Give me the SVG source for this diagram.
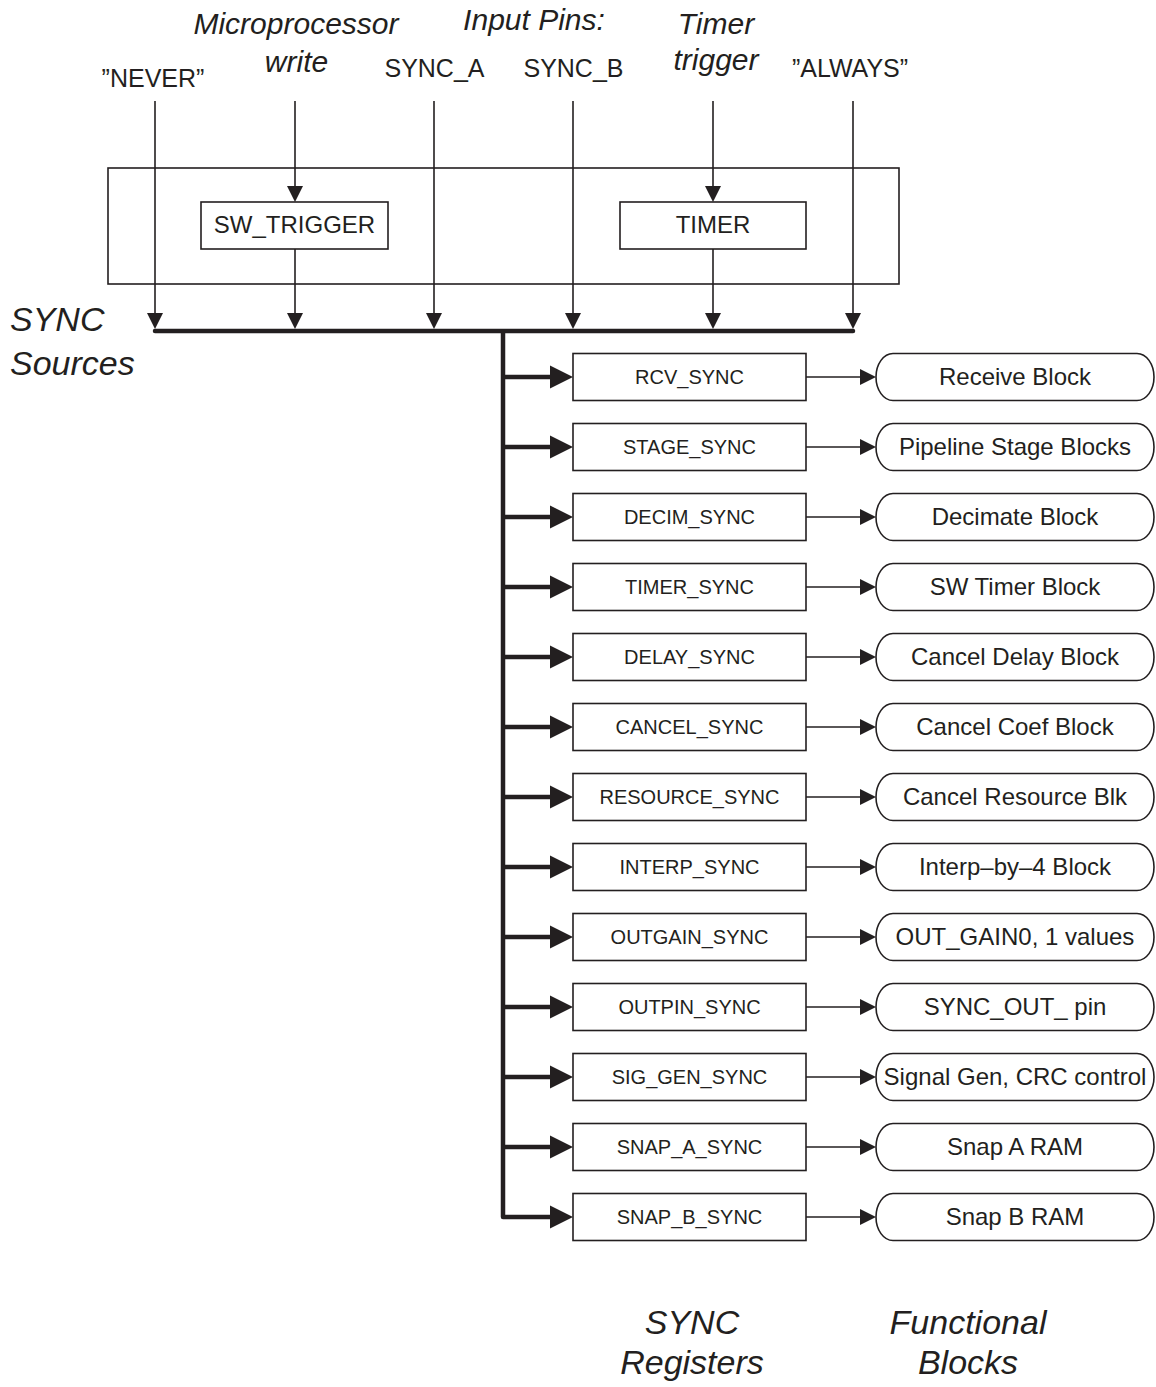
<svg xmlns="http://www.w3.org/2000/svg" width="1156" height="1387" viewBox="0 0 1156 1387">
<style>
  .bg{fill:#fff}
  .box{fill:#fff;stroke:#231f20;stroke-width:1.6}
  .frame{fill:none;stroke:#231f20;stroke-width:1.6}
  .thin{fill:none;stroke:#231f20;stroke-width:1.6}
  .thick{fill:none;stroke:#231f20;stroke-width:4.5}
  text{font-family:"Liberation Sans",Arial,sans-serif;fill:#231f20}
  .lbl{font-size:25px;text-anchor:middle}
  .it{font-size:30px;font-style:italic;text-anchor:middle}
  .big{font-size:34px;font-style:italic}
  .bigc{font-size:34px;font-style:italic;text-anchor:middle}
  .reg{font-size:20px;text-anchor:middle}
  .fn{font-size:24px;text-anchor:middle}
</style>
<defs>
  <marker id="ah" markerUnits="userSpaceOnUse" markerWidth="16" markerHeight="16" refX="0" refY="8" orient="auto" overflow="visible">
    <path d="M0,0 L16,8 L0,16 Z" fill="#231f20"/>
  </marker>
  <marker id="ahb" markerUnits="userSpaceOnUse" markerWidth="23" markerHeight="23" refX="0" refY="11.5" orient="auto" overflow="visible">
    <path d="M0,0 L23,11.5 L0,23 Z" fill="#231f20"/>
  </marker>
</defs>
<rect class="bg" x="0" y="0" width="1156" height="1387"/>

<!-- labels -->
<g id="labels">
  <text class="lbl" x="153" y="87">”NEVER”</text>
  <text class="lbl" x="434.5" y="77">SYNC_A</text>
  <text class="lbl" x="573.5" y="77">SYNC_B</text>
  <text class="lbl" x="850" y="77">”ALWAYS”</text>
  <text class="it" x="296" y="34">Microprocessor</text>
  <text class="it" x="296.5" y="72">write</text>
  <text class="it" x="534" y="30">Input Pins:</text>
  <text class="it" x="716" y="34">Timer</text>
  <text class="it" x="716" y="70">trigger</text>
  <text class="big" x="10" y="331">SYNC</text>
  <text class="big" x="10" y="375">Sources</text>
  <text class="bigc" x="692" y="1334">SYNC</text>
  <text class="bigc" x="692" y="1374">Registers</text>
  <text class="bigc" x="968" y="1334">Functional</text>
  <text class="bigc" x="968" y="1374">Blocks</text>
</g>

<g id="sources-frame">
  <rect class="frame" x="108" y="168" width="791" height="116"/>
</g>
<g id="sw_trigger">
  <rect class="box" x="201" y="202" width="187" height="47"/>
  <text class="fn" x="294.5" y="233">SW_TRIGGER</text>
</g>
<g id="timer">
  <rect class="box" x="620" y="202" width="186" height="47"/>
  <text class="fn" x="713" y="233">TIMER</text>
</g>

<!-- connectors -->
<g id="connectors">
  <path class="thin" d="M155,101 V313" marker-end="url(#ah)"/>
  <path class="thin" d="M295,101 V186" marker-end="url(#ah)"/>
  <path class="thin" d="M295,249 V313" marker-end="url(#ah)"/>
  <path class="thin" d="M434,101 V313" marker-end="url(#ah)"/>
  <path class="thin" d="M573,101 V313" marker-end="url(#ah)"/>
  <path class="thin" d="M713,101 V186" marker-end="url(#ah)"/>
  <path class="thin" d="M713,249 V313" marker-end="url(#ah)"/>
  <path class="thin" d="M853,101 V313" marker-end="url(#ah)"/>
  <path class="thick" d="M155,331 H853" stroke-linecap="round"/>
  <path class="thick" d="M503,331 V1217 H550" stroke-linejoin="round" marker-end="url(#ahb)"/>
  <path class="thick" d="M503,377 H550" marker-end="url(#ahb)"/>
  <path class="thick" d="M503,447 H550" marker-end="url(#ahb)"/>
  <path class="thick" d="M503,517 H550" marker-end="url(#ahb)"/>
  <path class="thick" d="M503,587 H550" marker-end="url(#ahb)"/>
  <path class="thick" d="M503,657 H550" marker-end="url(#ahb)"/>
  <path class="thick" d="M503,727 H550" marker-end="url(#ahb)"/>
  <path class="thick" d="M503,797 H550" marker-end="url(#ahb)"/>
  <path class="thick" d="M503,867 H550" marker-end="url(#ahb)"/>
  <path class="thick" d="M503,937 H550" marker-end="url(#ahb)"/>
  <path class="thick" d="M503,1007 H550" marker-end="url(#ahb)"/>
  <path class="thick" d="M503,1077 H550" marker-end="url(#ahb)"/>
  <path class="thick" d="M503,1147 H550" marker-end="url(#ahb)"/>
  <path class="thin" d="M806,377 H860" marker-end="url(#ah)"/>
  <path class="thin" d="M806,447 H860" marker-end="url(#ah)"/>
  <path class="thin" d="M806,517 H860" marker-end="url(#ah)"/>
  <path class="thin" d="M806,587 H860" marker-end="url(#ah)"/>
  <path class="thin" d="M806,657 H860" marker-end="url(#ah)"/>
  <path class="thin" d="M806,727 H860" marker-end="url(#ah)"/>
  <path class="thin" d="M806,797 H860" marker-end="url(#ah)"/>
  <path class="thin" d="M806,867 H860" marker-end="url(#ah)"/>
  <path class="thin" d="M806,937 H860" marker-end="url(#ah)"/>
  <path class="thin" d="M806,1007 H860" marker-end="url(#ah)"/>
  <path class="thin" d="M806,1077 H860" marker-end="url(#ah)"/>
  <path class="thin" d="M806,1147 H860" marker-end="url(#ah)"/>
  <path class="thin" d="M806,1217 H860" marker-end="url(#ah)"/>
</g>

<!-- SYNC registers -->
<g id="rcv_sync"><rect class="box" x="573" y="353.5" width="233" height="47"/><text class="reg" x="689.5" y="384">RCV_SYNC</text></g>
<g id="stage_sync"><rect class="box" x="573" y="423.5" width="233" height="47"/><text class="reg" x="689.5" y="454">STAGE_SYNC</text></g>
<g id="decim_sync"><rect class="box" x="573" y="493.5" width="233" height="47"/><text class="reg" x="689.5" y="524">DECIM_SYNC</text></g>
<g id="timer_sync"><rect class="box" x="573" y="563.5" width="233" height="47"/><text class="reg" x="689.5" y="594">TIMER_SYNC</text></g>
<g id="delay_sync"><rect class="box" x="573" y="633.5" width="233" height="47"/><text class="reg" x="689.5" y="664">DELAY_SYNC</text></g>
<g id="cancel_sync"><rect class="box" x="573" y="703.5" width="233" height="47"/><text class="reg" x="689.5" y="734">CANCEL_SYNC</text></g>
<g id="resource_sync"><rect class="box" x="573" y="773.5" width="233" height="47"/><text class="reg" x="689.5" y="804">RESOURCE_SYNC</text></g>
<g id="interp_sync"><rect class="box" x="573" y="843.5" width="233" height="47"/><text class="reg" x="689.5" y="874">INTERP_SYNC</text></g>
<g id="outgain_sync"><rect class="box" x="573" y="913.5" width="233" height="47"/><text class="reg" x="689.5" y="944">OUTGAIN_SYNC</text></g>
<g id="outpin_sync"><rect class="box" x="573" y="983.5" width="233" height="47"/><text class="reg" x="689.5" y="1014">OUTPIN_SYNC</text></g>
<g id="sig_gen_sync"><rect class="box" x="573" y="1053.5" width="233" height="47"/><text class="reg" x="689.5" y="1084">SIG_GEN_SYNC</text></g>
<g id="snap_a_sync"><rect class="box" x="573" y="1123.5" width="233" height="47"/><text class="reg" x="689.5" y="1154">SNAP_A_SYNC</text></g>
<g id="snap_b_sync"><rect class="box" x="573" y="1193.5" width="233" height="47"/><text class="reg" x="689.5" y="1224">SNAP_B_SYNC</text></g>

<!-- functional blocks -->
<g id="receive_block"><rect class="box" x="876" y="353.5" width="278" height="47" rx="17" ry="23.5"/><text class="fn" x="1015" y="385">Receive Block</text></g>
<g id="pipeline_stage_blocks"><rect class="box" x="876" y="423.5" width="278" height="47" rx="17" ry="23.5"/><text class="fn" x="1015" y="455">Pipeline Stage Blocks</text></g>
<g id="decimate_block"><rect class="box" x="876" y="493.5" width="278" height="47" rx="17" ry="23.5"/><text class="fn" x="1015" y="525">Decimate Block</text></g>
<g id="sw_timer_block"><rect class="box" x="876" y="563.5" width="278" height="47" rx="17" ry="23.5"/><text class="fn" x="1015" y="595">SW Timer Block</text></g>
<g id="cancel_delay_block"><rect class="box" x="876" y="633.5" width="278" height="47" rx="17" ry="23.5"/><text class="fn" x="1015" y="665">Cancel Delay Block</text></g>
<g id="cancel_coef_block"><rect class="box" x="876" y="703.5" width="278" height="47" rx="17" ry="23.5"/><text class="fn" x="1015" y="735">Cancel Coef Block</text></g>
<g id="cancel_resource_blk"><rect class="box" x="876" y="773.5" width="278" height="47" rx="17" ry="23.5"/><text class="fn" x="1015" y="805">Cancel Resource Blk</text></g>
<g id="interp_block"><rect class="box" x="876" y="843.5" width="278" height="47" rx="17" ry="23.5"/><text class="fn" x="1015" y="875">Interp–by–4 Block</text></g>
<g id="out_gain_values"><rect class="box" x="876" y="913.5" width="278" height="47" rx="17" ry="23.5"/><text class="fn" x="1015" y="945">OUT_GAIN0, 1 values</text></g>
<g id="sync_out_pin"><rect class="box" x="876" y="983.5" width="278" height="47" rx="17" ry="23.5"/><text class="fn" x="1015" y="1015">SYNC_OUT_ pin</text></g>
<g id="signal_gen_crc"><rect class="box" x="876" y="1053.5" width="278" height="47" rx="17" ry="23.5"/><text class="fn" x="1015" y="1085">Signal Gen, CRC control</text></g>
<g id="snap_a_ram"><rect class="box" x="876" y="1123.5" width="278" height="47" rx="17" ry="23.5"/><text class="fn" x="1015" y="1155">Snap A RAM</text></g>
<g id="snap_b_ram"><rect class="box" x="876" y="1193.5" width="278" height="47" rx="17" ry="23.5"/><text class="fn" x="1015" y="1225">Snap B RAM</text></g>
</svg>
